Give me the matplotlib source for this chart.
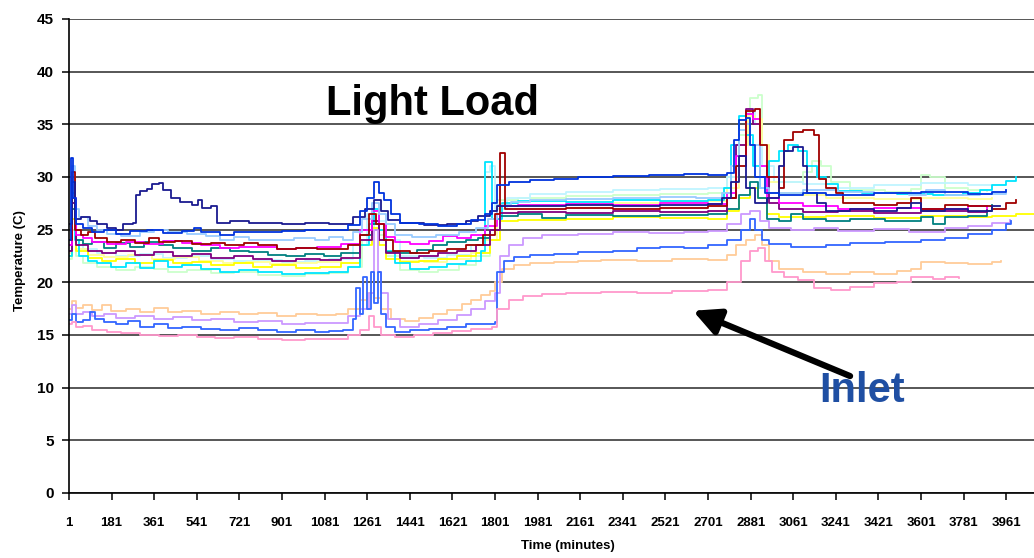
import numpy as np
import matplotlib.pyplot as plt

plt.rcParams['font.family'] = 'Liberation Sans'
plt.rcParams['font.weight'] = 'bold'

# logger readings, (minute, degC) at each change of value
navy = [(1, 25.5), (14, 29.5), (26, 26.0), (50, 26.2), (90, 25.8), (120, 25.5), (160, 25.2), (200, 25.0),
        (230, 25.5), (270, 25.6), (285, 28.3), (300, 28.7), (330, 28.9), (350, 29.3), (380, 29.4), (400, 28.8),
        (430, 28.0), (470, 27.6), (520, 27.3), (545, 27.8), (565, 27.1), (600, 27.2), (625, 25.6), (680, 25.8),
        (760, 25.6), (900, 25.5), (1000, 25.6), (1100, 25.5), (1200, 26.2), (1250, 27.0), (1290, 27.8),
        (1320, 26.8), (1350, 25.9), (1400, 25.6), (1500, 25.4), (1600, 25.5), (1680, 25.8), (1730, 26.3),
        (1780, 26.8), (1810, 27.2), (1900, 27.2), (2100, 27.3), (2300, 27.2), (2500, 27.3), (2700, 27.4),
        (2760, 28.0), (2800, 29.5), (2830, 32.0), (2860, 29.0), (2900, 27.5), (2950, 28.0), (3000, 31.0),
        (3020, 32.5), (3060, 32.8), (3100, 31.0), (3120, 28.5), (3160, 27.5), (3200, 26.8), (3300, 27.0),
        (3400, 26.8), (3500, 27.1), (3560, 27.5), (3600, 26.8), (3700, 27.0), (3800, 26.8), (3900, 27.2),
        (3935, 27.2)]
blue = [(1, 24.0), (10, 31.8), (20, 28.0), (30, 25.5), (60, 25.2), (100, 24.8), (150, 25.0), (200, 24.6),
        (260, 24.9), (330, 25.0), (400, 24.7), (480, 24.9), (530, 25.2), (560, 24.8), (640, 24.5), (700, 24.8),
        (800, 24.8), (900, 24.9), (1000, 25.0), (1100, 25.0), (1180, 25.4), (1230, 26.8), (1260, 28.0),
        (1290, 29.5), (1310, 28.5), (1330, 27.8), (1360, 26.5), (1400, 25.6), (1480, 25.5), (1560, 25.3),
        (1640, 25.5), (1700, 25.9), (1760, 26.5), (1790, 27.5), (1810, 29.2), (1860, 29.5), (1950, 29.7),
        (2050, 29.8), (2150, 30.0), (2300, 30.1), (2450, 30.2), (2600, 30.3), (2700, 30.2), (2780, 30.4),
        (2810, 33.5), (2830, 35.4), (2860, 35.6), (2880, 33.0), (2900, 30.0), (2940, 28.5), (3000, 28.3),
        (3100, 28.5), (3200, 28.3), (3400, 28.5), (3600, 28.6), (3800, 28.4), (3900, 28.6), (3960, 28.8)]
lightblue = [(1, 25.3), (14, 31.0), (26, 27.0), (45, 26.2), (80, 25.3), (120, 25.0), (160, 24.6), (220, 24.4),
             (300, 24.8), (360, 25.0), (420, 24.8), (500, 24.6), (580, 24.4), (640, 24.0), (700, 24.3),
             (760, 24.0), (850, 24.0), (950, 24.2), (1040, 24.0), (1100, 24.3), (1160, 24.0), (1200, 24.8),
             (1240, 26.0), (1280, 27.5), (1310, 26.5), (1340, 25.5), (1380, 24.5), (1450, 24.3), (1550, 24.5),
             (1650, 24.8), (1720, 25.2), (1770, 26.0), (1810, 27.3), (1870, 27.6), (1950, 27.8), (2100, 27.9),
             (2300, 28.0), (2500, 28.1), (2650, 28.0), (2760, 28.5), (2800, 31.0), (2830, 34.5), (2860, 35.0),
             (2880, 33.0), (2920, 29.0), (2960, 28.5), (3100, 28.8), (3250, 28.6), (3400, 28.5), (3550, 28.3),
             (3620, 28.8), (3700, 28.3), (3850, 28.4), (3960, 28.6)]
lightcyan = [(1, 23.0), (14, 27.5), (30, 24.0), (60, 23.2), (120, 22.8), (200, 22.5), (300, 22.7), (400, 22.3),
             (500, 22.5), (600, 22.2), (700, 22.0), (800, 22.1), (900, 21.9), (1000, 22.0), (1100, 22.2),
             (1200, 23.5), (1260, 26.5), (1300, 25.8), (1340, 24.0), (1400, 22.5), (1500, 22.3), (1600, 22.6),
             (1700, 23.5), (1760, 30.5), (1780, 31.0), (1800, 27.0), (1850, 28.0), (1950, 28.4), (2100, 28.6),
             (2300, 28.8), (2500, 28.9), (2700, 29.0), (2780, 30.0), (2820, 33.0), (2870, 36.5), (2900, 35.0),
             (2930, 31.0), (2980, 29.5), (3100, 29.3), (3200, 29.0), (3400, 29.2), (3600, 29.4), (3800, 29.2),
             (3900, 29.0)]
cyan = [(1, 22.5), (14, 28.5), (26, 24.0), (45, 22.5), (80, 22.0), (120, 21.8), (180, 21.5), (240, 21.8),
        (300, 21.4), (360, 22.0), (420, 21.5), (480, 21.6), (560, 21.3), (640, 21.0), (720, 21.2), (800, 21.0),
        (900, 20.8), (1000, 20.9), (1100, 21.0), (1180, 21.5), (1230, 23.5), (1270, 25.5), (1290, 27.0),
        (1310, 25.0), (1340, 23.0), (1380, 21.8), (1440, 21.3), (1520, 21.5), (1600, 21.7), (1680, 22.0),
        (1740, 23.0), (1760, 31.4), (1775, 31.4), (1790, 26.0), (1830, 27.5), (1900, 27.7), (2100, 27.6),
        (2300, 27.8), (2500, 27.7), (2700, 27.8), (2770, 29.0), (2800, 33.0), (2830, 35.8), (2860, 34.0),
        (2890, 31.0), (2920, 29.0), (2960, 31.5), (3000, 32.5), (3040, 33.0), (3080, 32.5), (3120, 31.0),
        (3160, 30.0), (3200, 29.3), (3250, 28.7), (3350, 28.5), (3500, 28.4), (3650, 28.3), (3780, 28.5),
        (3850, 28.8), (3900, 29.2), (3960, 29.6), (4000, 30.0)]
lightgreen = [(1, 22.2), (14, 25.0), (30, 22.5), (60, 21.8), (120, 21.5), (200, 21.2), (280, 21.5), (360, 21.3),
              (420, 21.0), (500, 21.2), (600, 20.9), (700, 21.0), (800, 20.7), (900, 20.6), (1000, 20.8),
              (1100, 20.9), (1180, 21.5), (1240, 24.0), (1290, 26.5), (1310, 24.5), (1340, 22.5), (1400, 21.2),
              (1480, 21.0), (1560, 21.2), (1650, 21.6), (1720, 22.5), (1780, 25.0), (1810, 27.8), (1900, 28.0),
              (2100, 28.2), (2300, 28.3), (2500, 28.4), (2700, 28.5), (2780, 30.0), (2830, 34.0), (2880, 37.5),
              (2910, 37.8), (2930, 33.0), (2960, 30.0), (3000, 29.5), (3100, 30.5), (3140, 31.5), (3180, 31.0),
              (3220, 29.5), (3300, 28.8), (3450, 28.6), (3560, 28.9), (3600, 30.2), (3640, 30.0), (3700, 29.0),
              (3800, 28.8), (3880, 28.7)]
lightyellow = [(1, 22.8), (14, 26.0), (30, 23.2), (80, 22.6), (150, 22.4), (250, 22.6), (350, 22.2), (450, 22.4),
               (550, 22.0), (650, 21.8), (750, 21.9), (850, 21.7), (950, 21.8), (1050, 21.9), (1150, 22.3),
               (1230, 24.5), (1280, 26.5), (1310, 25.0), (1340, 23.0), (1400, 22.0), (1500, 21.9), (1600, 22.2),
               (1700, 22.8), (1760, 24.0), (1810, 27.2), (1900, 27.3), (2100, 27.4), (2300, 27.5), (2500, 27.6),
               (2700, 27.7), (2780, 29.0), (2830, 33.0), (2870, 35.8), (2900, 35.5), (2930, 33.0), (2960, 29.5),
               (3000, 28.5), (3100, 28.3), (3200, 28.0), (3400, 27.9), (3600, 28.0), (3800, 27.9), (3900, 28.0)]
magenta = [(1, 23.5), (14, 28.0), (30, 24.5), (60, 24.2), (100, 23.8), (160, 23.6), (240, 23.8), (320, 23.6),
           (400, 23.9), (480, 23.7), (560, 23.5), (640, 23.3), (720, 23.4), (800, 23.4), (880, 23.2), (960, 23.3),
           (1050, 23.4), (1150, 23.6), (1230, 25.0), (1280, 26.8), (1310, 25.5), (1340, 24.3), (1380, 23.8),
           (1440, 23.6), (1520, 23.9), (1580, 24.4), (1640, 24.2), (1700, 24.5), (1760, 25.3), (1810, 27.2),
           (1900, 27.3), (2100, 27.4), (2300, 27.3), (2500, 27.5), (2700, 27.4), (2780, 28.5), (2820, 32.0),
           (2860, 36.0), (2890, 35.5), (2920, 31.0), (2950, 28.0), (3000, 27.5), (3100, 27.2), (3250, 27.0),
           (3400, 27.1), (3600, 27.0), (3800, 27.2), (3880, 27.1)]
darkred = [(1, 24.0), (14, 30.5), (26, 25.0), (50, 24.5), (80, 24.8), (110, 24.2), (160, 23.8), (220, 24.0),
           (280, 23.7), (340, 24.2), (380, 23.8), (450, 23.9), (520, 23.6), (600, 23.7), (660, 23.5), (740, 23.7),
           (800, 23.5), (880, 23.2), (960, 23.3), (1050, 23.2), (1130, 23.2), (1180, 23.5), (1230, 24.5),
           (1270, 26.5), (1300, 25.5), (1330, 24.0), (1370, 23.0), (1440, 22.8), (1520, 23.0), (1600, 23.2),
           (1680, 23.5), (1750, 24.5), (1800, 26.5), (1820, 32.3), (1835, 32.3), (1845, 27.0), (1900, 27.0),
           (2100, 27.1), (2300, 27.0), (2500, 27.1), (2700, 27.2), (2780, 28.0), (2820, 31.0), (2860, 36.3),
           (2900, 36.5), (2920, 33.0), (2950, 30.0), (3000, 29.0), (3020, 33.5), (3060, 34.3), (3100, 34.5),
           (3150, 34.0), (3170, 29.8), (3200, 29.0), (3240, 28.5), (3270, 27.5), (3400, 27.3), (3500, 27.5),
           (3560, 28.0), (3600, 27.0), (3700, 27.3), (3800, 27.2), (3900, 27.0), (3960, 27.5), (4000, 27.8)]
teal = [(1, 23.5), (14, 27.0), (30, 24.0), (60, 23.6), (100, 23.8), (150, 23.3), (200, 23.7), (260, 23.4),
        (320, 23.8), (380, 23.5), (440, 23.3), (520, 23.0), (600, 23.3), (680, 23.0), (760, 22.9), (840, 22.6),
        (920, 22.5), (1000, 22.7), (1080, 22.5), (1150, 22.8), (1230, 24.5), (1280, 25.5), (1310, 24.0),
        (1340, 22.9), (1400, 22.8), (1470, 23.1), (1540, 23.5), (1600, 23.8), (1680, 24.0), (1730, 24.2),
        (1780, 25.0), (1820, 26.3), (1900, 26.5), (2000, 26.1), (2100, 26.4), (2300, 26.3), (2500, 26.4),
        (2700, 26.5), (2780, 27.0), (2830, 28.3), (2880, 29.5), (2910, 28.0), (2950, 26.0), (3000, 25.8),
        (3050, 26.5), (3100, 26.0), (3200, 25.8), (3300, 26.0), (3450, 25.8), (3600, 26.2), (3650, 25.5),
        (3700, 26.2), (3800, 26.3), (3880, 26.8), (3900, 27.3)]
purple = [(1, 23.0), (14, 27.5), (30, 23.5), (80, 23.0), (140, 22.8), (200, 23.0), (280, 22.6), (360, 22.9),
          (440, 22.5), (520, 22.7), (600, 22.3), (700, 22.5), (780, 22.2), (860, 22.0), (960, 22.2), (1060, 22.1),
          (1150, 22.3), (1230, 24.0), (1280, 25.8), (1310, 24.0), (1340, 22.8), (1400, 22.3), (1480, 22.5),
          (1560, 22.8), (1640, 23.0), (1720, 23.5), (1780, 25.0), (1820, 26.6), (1900, 26.7), (2100, 26.6),
          (2300, 26.8), (2500, 26.7), (2700, 26.8), (2780, 28.0), (2820, 33.0), (2860, 36.5), (2890, 35.0),
          (2920, 30.0), (2960, 27.5), (3000, 27.0), (3100, 26.7), (3250, 26.8), (3400, 26.6), (3600, 26.8),
          (3800, 26.7), (3880, 26.9)]
yellow = [(1, 22.5), (14, 26.0), (30, 23.0), (80, 22.3), (140, 22.0), (200, 22.2), (280, 21.8), (360, 22.1),
          (440, 21.8), (520, 21.9), (600, 21.6), (700, 21.8), (780, 21.5), (860, 21.6), (960, 21.4), (1060, 21.5),
          (1150, 21.8), (1230, 23.5), (1280, 25.2), (1310, 23.5), (1340, 22.2), (1400, 21.9), (1480, 22.0),
          (1560, 22.2), (1640, 22.5), (1720, 22.8), (1780, 24.0), (1820, 25.8), (1900, 25.9), (2100, 26.0),
          (2300, 26.2), (2500, 26.1), (2700, 26.0), (2780, 26.8), (2830, 28.0), (2880, 29.0), (2910, 28.0),
          (2950, 26.5), (3000, 26.2), (3200, 26.3), (3400, 26.1), (3600, 26.3), (3800, 26.2), (3900, 26.3),
          (4000, 26.5), (4078, 26.5)]

# inlet sensors
peach = [(1, 17.5), (14, 18.2), (30, 17.6), (60, 17.8), (100, 17.4), (140, 17.8), (180, 17.3), (240, 17.5),
         (300, 17.2), (360, 17.6), (420, 17.2), (480, 17.3), (560, 17.0), (640, 17.2), (720, 17.0), (800, 17.1),
         (880, 16.8), (960, 17.0), (1050, 16.9), (1130, 17.0), (1180, 17.5), (1230, 18.3), (1260, 19.0),
         (1290, 18.5), (1320, 17.5), (1360, 16.5), (1420, 16.3), (1480, 16.6), (1540, 17.0), (1600, 17.4),
         (1660, 17.9), (1700, 18.3), (1740, 18.8), (1780, 19.2), (1800, 20.0), (1830, 21.3), (1880, 21.6),
         (1950, 21.8), (2050, 21.9), (2150, 22.0), (2250, 22.1), (2400, 22.0), (2550, 22.2), (2700, 22.1),
         (2780, 22.6), (2820, 23.5), (2860, 24.0), (2900, 24.5), (2930, 23.5), (2960, 22.0), (3000, 21.3),
         (3100, 21.0), (3200, 20.8), (3300, 21.0), (3400, 20.8), (3500, 21.1), (3560, 21.3), (3600, 21.9),
         (3700, 21.8), (3800, 21.7), (3900, 21.9), (3940, 22.0)]
lavender = [(1, 17.0), (14, 17.8), (30, 17.0), (60, 17.2), (100, 16.8), (150, 17.0), (200, 16.6), (280, 16.8),
            (360, 16.5), (440, 16.7), (520, 16.4), (600, 16.5), (700, 16.2), (800, 16.3), (900, 16.0), (1000, 16.1),
            (1100, 16.1), (1180, 16.8), (1230, 17.5), (1270, 19.0), (1290, 25.0), (1305, 21.0), (1320, 19.0),
            (1350, 16.5), (1400, 15.8), (1480, 16.0), (1560, 16.4), (1640, 16.9), (1700, 17.5), (1760, 18.2),
            (1800, 19.0), (1820, 22.5), (1860, 23.5), (1920, 24.2), (2000, 24.5), (2150, 24.6), (2300, 24.8),
            (2450, 24.7), (2600, 24.8), (2700, 24.9), (2780, 25.5), (2840, 26.5), (2880, 26.8), (2920, 25.8),
            (2960, 25.2), (3050, 25.0), (3150, 25.2), (3250, 24.9), (3400, 25.1), (3550, 24.8), (3700, 25.2),
            (3800, 25.3), (3900, 25.6), (3975, 25.9)]
cornflower = [(1, 16.4), (14, 17.0), (30, 16.2), (60, 16.4), (90, 17.2), (110, 16.5), (150, 16.2), (200, 16.0),
              (250, 16.3), (300, 15.8), (360, 16.0), (420, 15.7), (480, 15.8), (560, 15.6), (640, 15.5), (720, 15.7),
              (800, 15.5), (880, 15.3), (960, 15.5), (1040, 15.3), (1100, 15.4), (1160, 15.5), (1200, 16.5),
              (1215, 19.5), (1230, 17.0), (1245, 20.5), (1260, 17.5), (1275, 21.0), (1290, 18.0), (1305, 21.0),
              (1320, 17.0), (1340, 15.8), (1380, 15.3), (1440, 15.5), (1520, 15.6), (1600, 15.8), (1680, 16.0),
              (1760, 16.0), (1800, 16.2), (1810, 21.0), (1840, 22.0), (1880, 22.4), (1950, 22.6), (2050, 22.7),
              (2150, 22.9), (2300, 23.0), (2400, 23.3), (2500, 23.4), (2600, 23.3), (2700, 23.5), (2780, 24.0),
              (2840, 25.0), (2880, 26.0), (2900, 25.0), (2930, 24.0), (2960, 23.6), (3050, 23.4), (3200, 23.5),
              (3300, 23.7), (3450, 23.8), (3600, 24.0), (3700, 24.2), (3800, 24.6), (3900, 25.0), (3960, 25.5),
              (3980, 25.8)]
pink = [(1, 16.0), (14, 16.2), (30, 15.8), (60, 15.9), (100, 15.5), (160, 15.3), (220, 15.2), (300, 15.0),
        (380, 14.9), (460, 15.0), (540, 14.8), (620, 14.7), (700, 14.8), (800, 14.6), (900, 14.5), (1000, 14.6),
        (1100, 14.6), (1180, 15.0), (1230, 15.5), (1270, 16.8), (1290, 15.8), (1320, 15.0), (1380, 14.8),
        (1460, 15.0), (1540, 15.2), (1620, 15.4), (1700, 15.6), (1790, 15.8), (1810, 17.5), (1860, 18.3),
        (1920, 18.7), (2000, 18.9), (2100, 19.0), (2250, 19.1), (2400, 19.0), (2550, 19.2), (2700, 19.3),
        (2780, 20.0), (2840, 22.0), (2880, 23.0), (2910, 23.3), (2940, 22.0), (2970, 21.0), (3020, 20.5),
        (3080, 20.2), (3150, 19.5), (3220, 19.3), (3300, 19.6), (3400, 19.9), (3500, 20.0), (3560, 20.5),
        (3650, 20.3), (3700, 20.5), (3760, 20.4)]

series = [
    (lightgreen, '#CCFFCC'), (lightcyan, '#BFF5FF'), (lightyellow, '#FFFF99'), (yellow, '#FFFF00'),
    (cyan, '#00E5FF'), (teal, '#008080'), (purple, '#800080'), (magenta, '#FF00FF'),
    (lightblue, '#99CCFF'), (darkred, '#A00000'), (navy, '#1A1A90'), (blue, '#0033DD'),
    (peach, '#FFCC99'), (lavender, '#CC99FF'), (cornflower, '#3366FF'), (pink, '#FF99CC'),
]

xticks = np.arange(1, 3962, 180)

fig = plt.figure(figsize=(10.34, 5.58), dpi=100)
ax = fig.add_axes([0.0667, 0.1165, 0.9333, 0.8495])

for data, col in series:
    t, v = zip(*data)
    ax.plot(t, v, color=col, linewidth=1.3, drawstyle='steps-post')

ax.set_xlim(1, 4078)
ax.set_ylim(0, 45)
ax.set_yticks(np.arange(0, 46, 5))
ax.set_xticks(xticks)
ax.set_xticklabels([str(x) for x in xticks], fontsize=9.5, fontweight='bold')
ax.set_yticklabels([str(y) for y in range(0, 46, 5)], fontsize=11, fontweight='bold')
ax.yaxis.grid(True, color='#3a3a3a', linewidth=1.2)
ax.set_axisbelow(True)
for s in ['top', 'right']:
    ax.spines[s].set_visible(False)
ax.spines['left'].set_linewidth(1.2)
ax.spines['bottom'].set_linewidth(1.2)
ax.tick_params(axis='both', direction='out', length=5, width=1.1)
ax.tick_params(axis='x', pad=12)
ax.tick_params(axis='y', pad=6)

ax.set_xlabel('Time (minutes)', fontsize=9.5, fontweight='bold')
ax.set_ylabel('Temperature (C)', fontsize=9.5, fontweight='bold')
ax.xaxis.set_label_coords(0.517, -0.1)
ax.yaxis.set_label_coords(-0.045, 0.49)

ax.text(1535, 35.9, 'Light Load', fontsize=30, fontweight='bold', ha='center', va='baseline')
ax.text(3351, 8.6, 'Inlet', fontsize=30, fontweight='bold', color='#1F4FA3', ha='center', va='baseline')
ax.annotate('', xy=(2637, 17.3), xytext=(3301, 11.1),
            arrowprops=dict(arrowstyle='-|>', color='black', lw=4.5, mutation_scale=40,
                            shrinkA=0, shrinkB=0))

fig.savefig('out.png', dpi=100)
